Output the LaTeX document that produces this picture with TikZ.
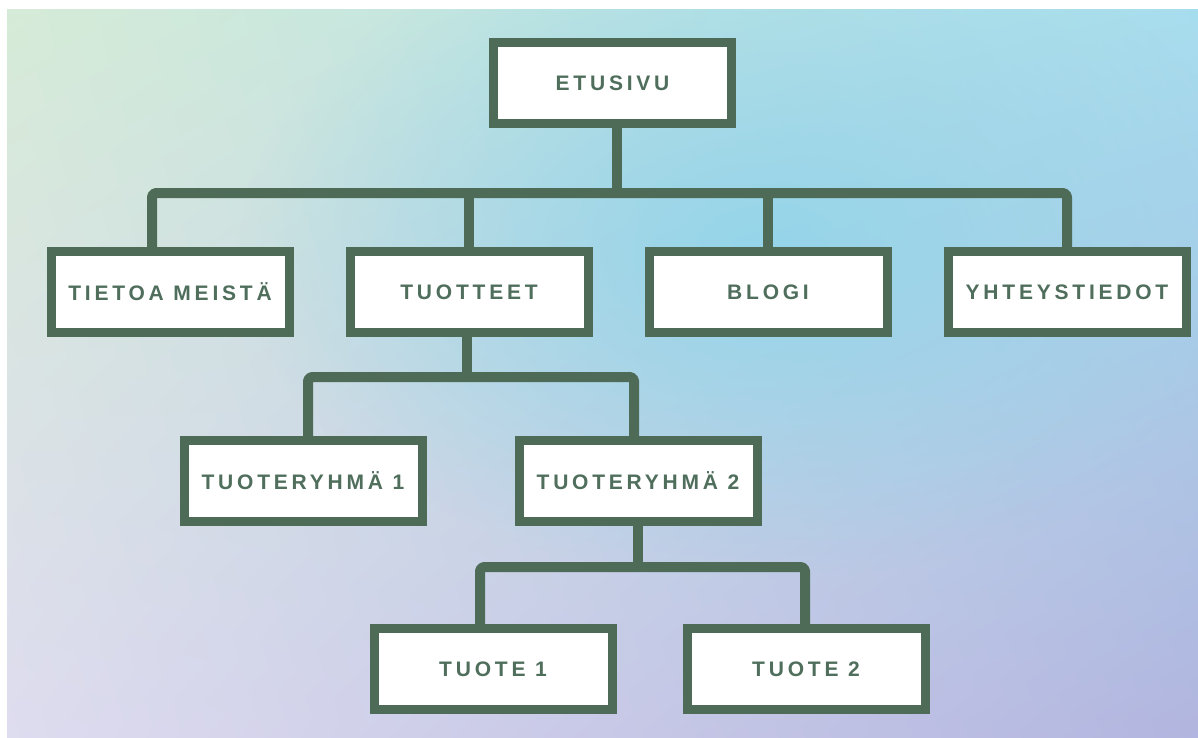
\documentclass[tikz,border=0pt]{standalone}
\usepackage{fontspec}
\usetikzlibrary{positioning, fadings, shadings}
\newfontfamily\boxfont[LetterSpace=18]{Liberation Sans}
\definecolor{sitegreen}{HTML}{4E6B58}
\definecolor{sitetext}{HTML}{4F6E5C}
\definecolor{bgtl}{HTML}{D6EBD7}
\definecolor{bgtr}{HTML}{A6DDEE}
\definecolor{bgbl}{HTML}{DEDCEF}
\definecolor{bgbr}{HTML}{B2B5DF}
\definecolor{bgblue}{HTML}{8ED4EA}
\tikzfading[name=blob, inner color=transparent!0, outer color=transparent!100]

\begin{document}
\begin{tikzpicture}[
  x=1pt, y=-1pt,
  page/.style={draw, fill=white, draw=sitegreen, line width=9pt, minimum width=238pt, minimum height=81pt,
    text=sitetext, font={\fontsize{21}{25}\boxfont\bfseries}},
  link/.style={draw=sitegreen, line width=10pt, line cap=round, line join=round},
]
  \useasboundingbox (0,0) rectangle (1198,738);
  % background
  \fill[white] (0,0) rectangle (1198,738);
  \begin{scope}
    \clip (7,10) rectangle (1198,738);
    \shade[upper left=bgtl, upper right=bgtr, lower left=bgbl, lower right=bgbr] (7,10) rectangle (1198,738);
    \fill[bgblue, opacity=0.85, path fading=blob] (760,250) ellipse [x radius=520, y radius=330];
  \end{scope}

  % pages
  \node[page] (etusivu) at (612.5,83) {ETUSIVU};
  \node[page] (tietoa) at (170,292) {TIETOA\ MEISTÄ};
  \node[page, right=52pt of tietoa] (tuotteet) {TUOTTEET};
  \node[page, right=52pt of tuotteet] (blogi) {BLOGI};
  \node[page, right=52pt of blogi] (yhteys) {YHTEYSTIEDOT};
  \node[page] (ryhma1) at (303,481) {TUOTERYHMÄ 1};
  \node[page, right=88pt of ryhma1] (ryhma2) {TUOTERYHMÄ 2};
  \node[page] (tuote1) at (493,669) {TUOTE 1};
  \node[page, right=66pt of tuote1] (tuote2) {TUOTE 2};

  % junctions
  \coordinate (bar1) at (617,193);
  \coordinate (bar2) at (467,377);
  \coordinate (bar3) at (638,567);

  % connectors
  \draw[link] ([xshift=4.5pt]etusivu.south) -- (bar1);
  \draw[link, rounded corners=4pt] ([xshift=-18pt]tietoa.north) |- (bar1) -| (yhteys.north);
  \draw[link] (tuotteet.north) -- (tuotteet.north |- bar1);
  \draw[link] (blogi.north) -- (blogi.north |- bar1);

  \draw[link] ([xshift=-2pt]tuotteet.south) -- (bar2);
  \draw[link, rounded corners=4pt] ([xshift=5pt]ryhma1.north) |- (bar2) -| ([xshift=-4pt]ryhma2.north);

  \draw[link] (ryhma2.south) -- (bar3);
  \draw[link, rounded corners=4pt] ([xshift=-13pt]tuote1.north) |- (bar3) -| ([xshift=-1pt]tuote2.north);
\end{tikzpicture}
\end{document}
